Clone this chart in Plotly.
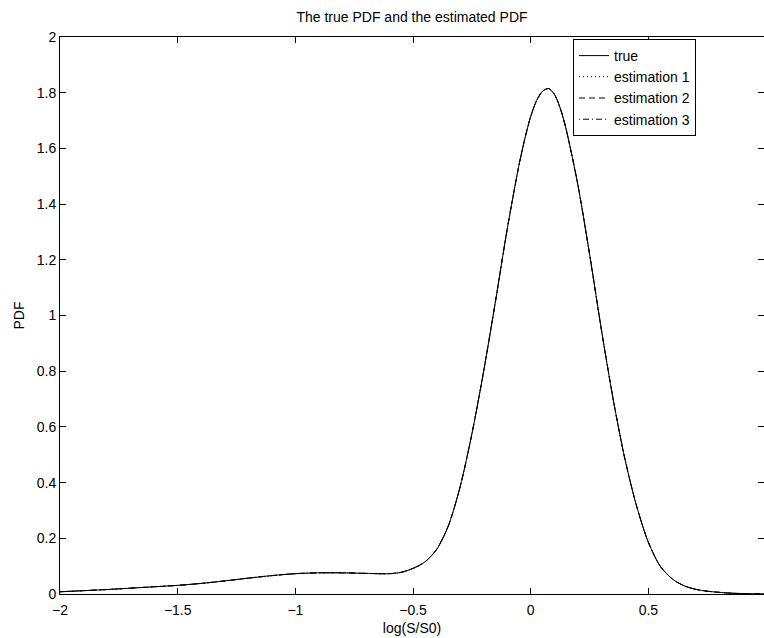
import plotly.graph_objects as go

# Values
x_vals = [-2.0, -1.9, -1.8, -1.7, -1.6, -1.5, -1.4, -1.3, -1.2, -1.1, -1.0,
          -0.9, -0.8, -0.7, -0.6, -0.55, -0.5, -0.45, -0.4, -0.35, -0.3,
          -0.25, -0.2, -0.15, -0.1, -0.05, -0.025, 0.0, 0.025, 0.05, 0.075,
          0.1, 0.125, 0.15, 0.2, 0.25, 0.3, 0.35, 0.4, 0.45, 0.5, 0.55,
          0.6, 0.65, 0.7, 0.75, 0.8, 0.85, 0.9, 0.95, 1.0]
pdf_true = [0.008, 0.012, 0.016, 0.021, 0.026, 0.031, 0.038, 0.047, 0.057, 0.066, 0.073,
            0.076, 0.076, 0.074, 0.073, 0.078, 0.092, 0.115, 0.16, 0.245, 0.385,
            0.575, 0.80, 1.05, 1.31, 1.54, 1.635, 1.715, 1.772, 1.805, 1.815,
            1.795, 1.745, 1.67, 1.47, 1.22, 0.95, 0.70, 0.485, 0.315, 0.185, 0.10,
            0.055, 0.03, 0.017, 0.010, 0.006, 0.003, 0.0015, 0.0008, 0.0004]
pdf_est1 = list(pdf_true)
pdf_est2 = list(pdf_true)
pdf_est3 = list(pdf_true)

series_names = ["true", "estimation 1", "estimation 2", "estimation 3"]
series_vals = [pdf_true, pdf_est1, pdf_est2, pdf_est3]
series_dash = ["solid", "1px,3px", "6px,4px", "1px,3px,6px,3px"]

x_ticks = [-2, -1.5, -1, -0.5, 0, 0.5]
x_ticklabels = ["\u22122", "\u22121.5", "\u22121", "\u22120.5", "0", "0.5"]
y_ticks = [0, 0.2, 0.4, 0.6, 0.8, 1, 1.2, 1.4, 1.6, 1.8, 2]
y_ticklabels = ["0", "0.2", "0.4", "0.6", "0.8", "1", "1.2", "1.4", "1.6", "1.8", "2"]

FONT = "Liberation Sans, Arial, Helvetica, sans-serif"

fig = go.Figure()
for name, vals, dash in zip(series_names, series_vals, series_dash):
    fig.add_trace(go.Scatter(
        x=x_vals, y=vals, name=name, mode="lines",
        line=dict(color="black", width=1, dash=dash, shape="spline", smoothing=0.8),
    ))

fig.update_layout(
    width=764, height=638,
    margin=dict(l=60, r=0, t=37, b=44),
    paper_bgcolor="white", plot_bgcolor="white",
    font=dict(family=FONT, size=14, color="black"),
    title=dict(text="The true PDF and the estimated PDF", font=dict(size=14),
               x=0.5, xref="paper", xanchor="center",
               y=1 - 17 / 638, yref="container", yanchor="middle"),
    showlegend=True,
    legend=dict(x=(573 - 60) / 704, y=(594 - 39) / 557, xanchor="left", yanchor="top",
                bgcolor="white", bordercolor="black", borderwidth=1,
                font=dict(size=14), tracegroupgap=0, itemwidth=30),
    xaxis=dict(range=[-2, 0.991], tickvals=x_ticks, ticktext=x_ticklabels,
               ticks="inside", ticklen=6, tickcolor="black", tickwidth=1,
               ticklabelstandoff=3,
               showline=True, linecolor="black", linewidth=1, mirror="ticks",
               showgrid=False, zeroline=False,
               title=dict(text="log(S/S0)", font=dict(size=14), standoff=6)),
    yaxis=dict(range=[0, 2], tickvals=y_ticks, ticktext=y_ticklabels,
               ticks="inside", ticklen=6, tickcolor="black", tickwidth=1,
               showline=True, linecolor="black", linewidth=1, mirror="ticks",
               showgrid=False, zeroline=False,
               title=dict(text="PDF", font=dict(size=14), standoff=8)),
)

fig.write_html("out.html")
